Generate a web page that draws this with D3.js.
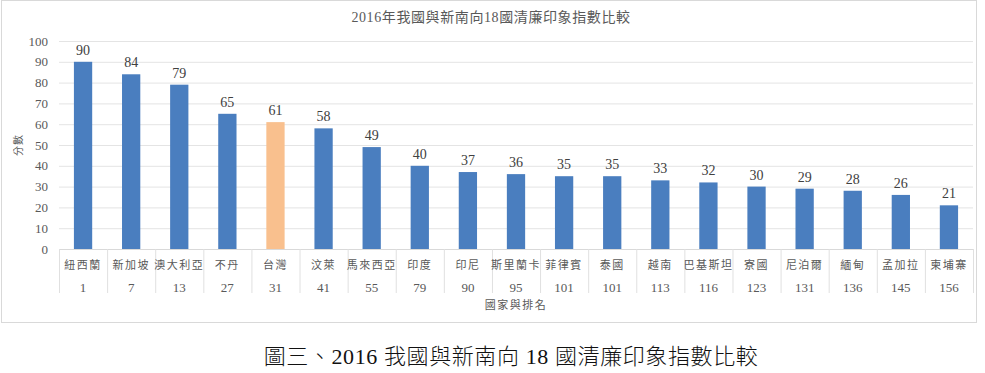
<!DOCTYPE html>
<html>
<head>
<meta charset="utf-8">
<script src="https://cdn.jsdelivr.net/npm/d3@7"></script>
<style>
  body { margin: 0; background: #fff; }
  text { font-family: "Liberation Serif", "DejaVu Serif", "Noto Sans CJK TC", serif; }
</style>
</head>
<body>
<div id="chart"></div>
<script>
// data
const countries = ['紐西蘭', '新加坡', '澳大利亞', '不丹', '台灣', '汶萊', '馬來西亞', '印度', '印尼',
  '斯里蘭卡', '菲律賓', '泰國', '越南', '巴基斯坦', '寮國', '尼泊爾', '緬甸', '孟加拉', '柬埔寨'];
const ranks = [1, 7, 13, 27, 31, 41, 55, 79, 90, 95, 101, 101, 113, 116, 123, 131, 136, 145, 156];
const scores = [90, 84, 79, 65, 61, 58, 49, 40, 37, 36, 35, 35, 33, 32, 30, 29, 28, 26, 21];
const yTicks = [0, 10, 20, 30, 40, 50, 60, 70, 80, 90, 100];
const highlight = '台灣';

const data = countries.map((c, i) => ({ name: c, rank: ranks[i], score: scores[i] }));

const width = 985;
const height = 373;
const margin = { top: 41, right: 12, bottom: 124, left: 59 };

const svg = d3.select('#chart')
  .append('svg')
  .attr('width', width)
  .attr('height', height);

// chart frame
svg.append('rect')
  .attr('x', 1.5).attr('y', 0.5)
  .attr('width', 975).attr('height', 322)
  .attr('fill', '#fff')
  .attr('stroke', '#d9d9d9');

const x = d3.scaleBand()
  .domain(d3.range(data.length))
  .range([margin.left, width - margin.right])
  .paddingInner(0.62)
  .paddingOuter(0.31);

const y = d3.scaleLinear()
  .domain([0, 100])
  .range([height - margin.bottom, margin.top]);

// grid
svg.append('g')
  .selectAll('line')
  .data(yTicks)
  .join('line')
    .attr('x1', margin.left)
    .attr('x2', width - margin.right)
    .attr('y1', d => y(d) + 0.5)
    .attr('y2', d => y(d) + 0.5)
    .attr('stroke', '#e4e4e4');

// y axis labels
svg.append('g')
  .attr('transform', `translate(${margin.left - 11},0)`)
  .call(d3.axisLeft(y).tickValues(yTicks).tickSize(0).tickPadding(0))
  .call(g => g.select('.domain').remove())
  .selectAll('text')
    .attr('font-size', '13px')
    .attr('fill', '#595959')
    .attr('font-family', '"Liberation Serif", serif');

// bars
svg.append('g')
  .selectAll('rect')
  .data(data)
  .join('rect')
    .attr('x', (d, i) => x(i))
    .attr('y', d => y(d.score))
    .attr('width', x.bandwidth())
    .attr('height', d => y(0) - y(d.score))
    .attr('fill', d => d.name === highlight ? '#f9c08e' : '#4a7ebf');

// value labels
svg.append('g')
  .selectAll('text')
  .data(data)
  .join('text')
    .attr('x', (d, i) => x(i) + x.bandwidth() / 2)
    .attr('y', d => y(d.score) - 7)
    .attr('text-anchor', 'middle')
    .attr('font-size', '14px')
    .attr('fill', '#404040')
    .text(d => d.score);

// category axis: separators + two label rows
const step = x.step();
const base = y(0);
const cat = svg.append('g');
cat.append('line')
  .attr('x1', margin.left).attr('x2', width - margin.right)
  .attr('y1', base + 0.5).attr('y2', base + 0.5)
  .attr('stroke', '#d9d9d9');
cat.selectAll('line.sep')
  .data(d3.range(data.length + 1))
  .join('line')
    .attr('class', 'sep')
    .attr('x1', i => margin.left + i * step + 0.5)
    .attr('x2', i => margin.left + i * step + 0.5)
    .attr('y1', base)
    .attr('y2', base + 44)
    .attr('stroke', '#e0e0e0');
cat.selectAll('text.name')
  .data(data)
  .join('text')
    .attr('class', 'name')
    .attr('x', (d, i) => x(i) + x.bandwidth() / 2)
    .attr('y', base + 20)
    .attr('text-anchor', 'middle')
    .attr('font-size', '11px')
    .attr('letter-spacing', '1.5px')
    .attr('fill', '#595959')
    .text(d => d.name);
cat.selectAll('text.rank')
  .data(data)
  .join('text')
    .attr('class', 'rank')
    .attr('x', (d, i) => x(i) + x.bandwidth() / 2)
    .attr('y', base + 43)
    .attr('text-anchor', 'middle')
    .attr('font-size', '13px')
    .attr('fill', '#595959')
    .text(d => d.rank);

// axis titles
svg.append('text')
  .attr('x', (margin.left + width - margin.right) / 2)
  .attr('y', 309)
  .attr('text-anchor', 'middle')
  .attr('font-size', '11px')
  .attr('letter-spacing', '1.5px')
  .attr('fill', '#595959')
  .text('國家與排名');

svg.append('text')
  .attr('transform', `translate(22,${(y(0) + y(100)) / 2}) rotate(-90)`)
  .attr('text-anchor', 'middle')
  .attr('font-size', '10px')
  .attr('letter-spacing', '1px')
  .attr('fill', '#595959')
  .text('分數');

// chart title
svg.append('text')
  .attr('x', 491)
  .attr('y', 22)
  .attr('text-anchor', 'middle')
  .attr('font-size', '14px')
  .attr('letter-spacing', '0.6px')
  .attr('fill', '#595959')
  .text('2016年我國與新南向18國清廉印象指數比較');

// caption under the frame
svg.append('text')
  .attr('x', 511)
  .attr('y', 364)
  .attr('text-anchor', 'middle')
  .attr('font-size', '22px')
  .attr('font-weight', 300)
  .attr('letter-spacing', '0.6px')
  .attr('fill', '#111')
  .text('圖三、2016 我國與新南向 18 國清廉印象指數比較');
</script>
</body>
</html>
